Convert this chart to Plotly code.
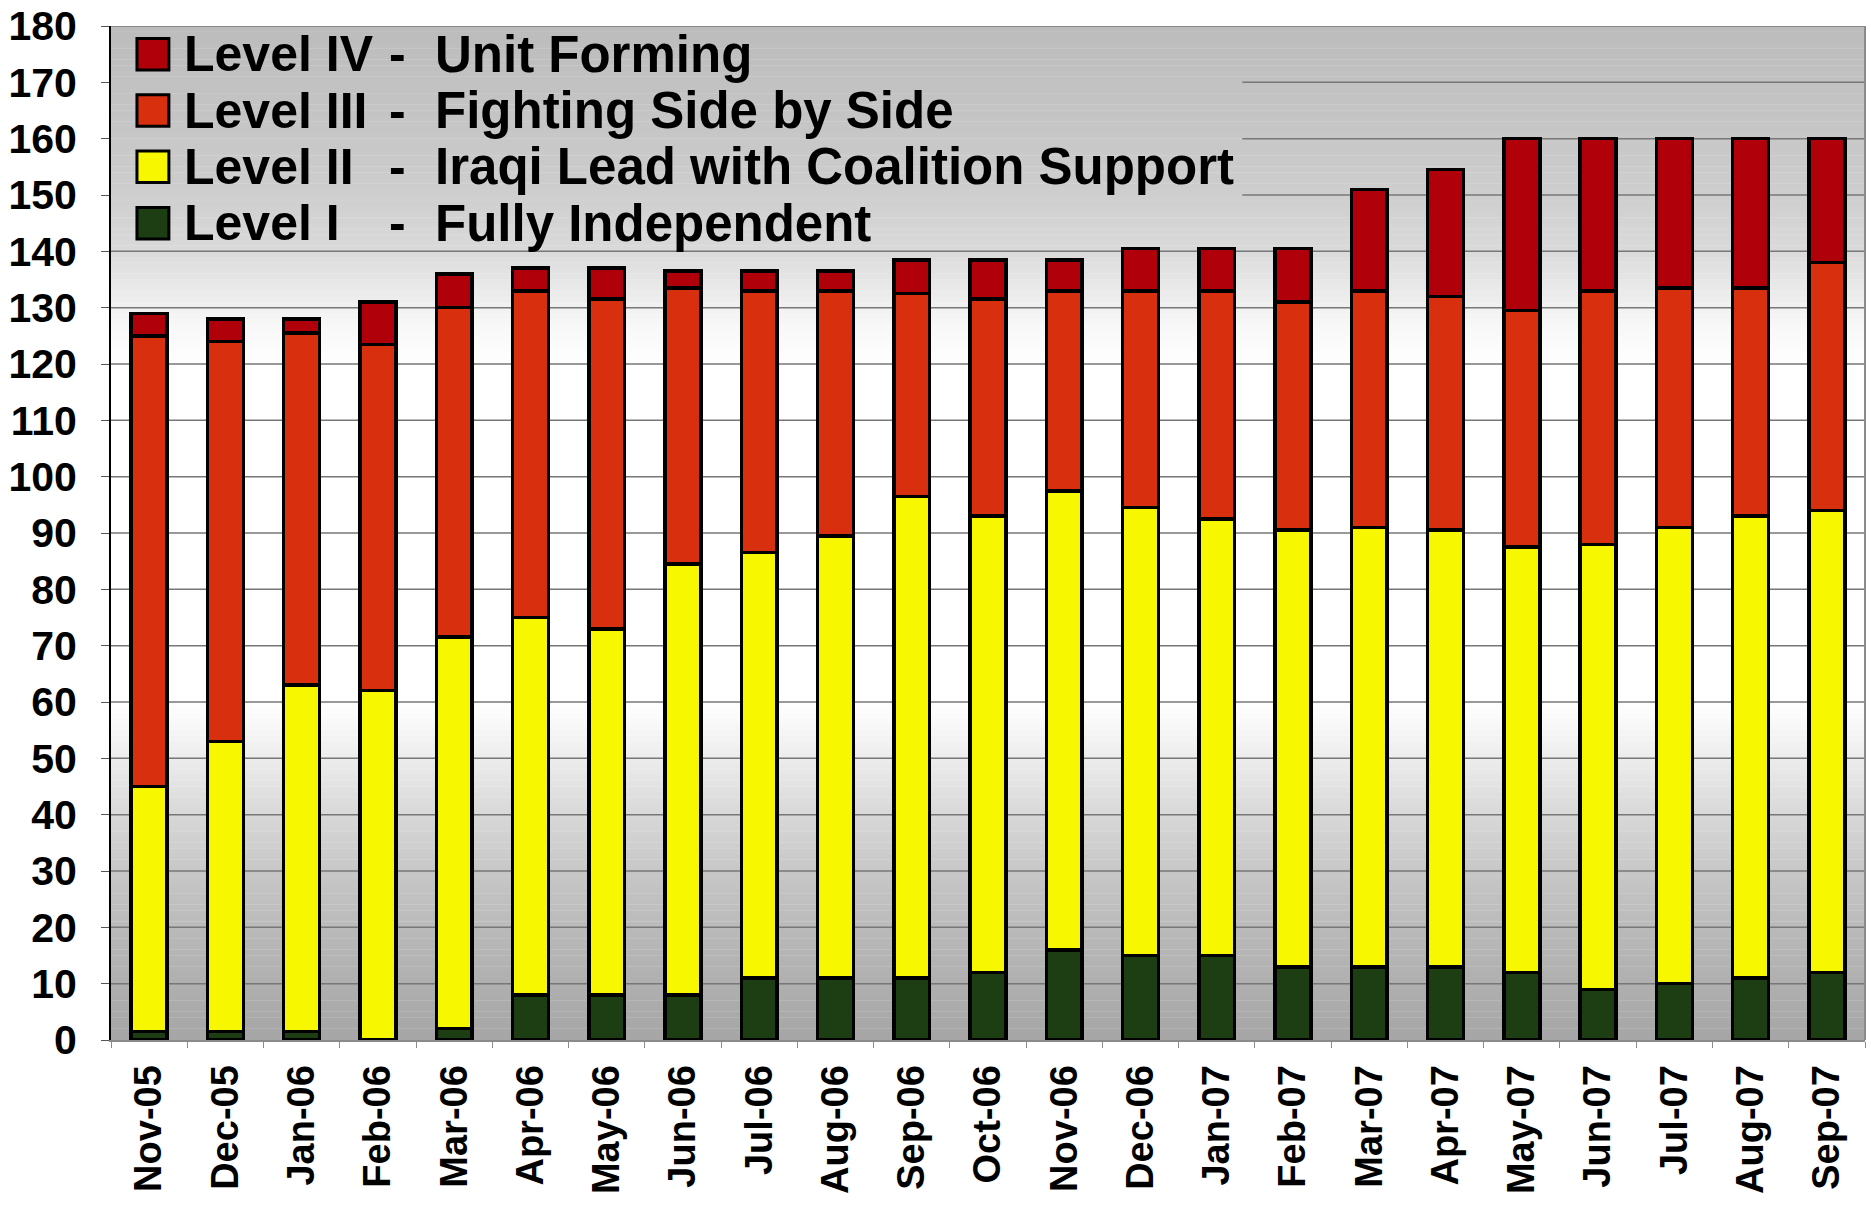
import plotly.graph_objects as go

months = ["Nov-05", "Dec-05", "Jan-06", "Feb-06", "Mar-06", "Apr-06", "May-06", "Jun-06",
          "Jul-06", "Aug-06", "Sep-06", "Oct-06", "Nov-06", "Dec-06", "Jan-07", "Feb-07",
          "Mar-07", "Apr-07", "May-07", "Jun-07", "Jul-07", "Aug-07", "Sep-07"]

level1 = [1.5, 1.5, 1.5, 0, 2, 8, 8, 8, 11, 11, 11, 12, 16, 15, 15, 13, 13, 13, 12, 9, 10, 11, 12]
level2 = [43.5, 51.5, 61.5, 62, 69.5, 67, 65, 76.5, 75.5, 78.5, 85.5, 81, 81.5, 79.5, 77.5, 77.5,
          78, 77.5, 75.5, 79, 81, 82, 82]
level3 = [80, 71, 62.5, 61.5, 58.5, 58, 58.5, 49, 46.5, 43.5, 36, 38.5, 35.5, 38.5, 40.5, 40.5,
          42, 41.5, 42, 45, 42.5, 40.5, 44]
level4 = [4, 4, 2.5, 7.5, 6, 4, 5.5, 3, 3.5, 3.5, 6, 7, 5.5, 7.5, 7.5, 9.5,
          18, 22.5, 30.5, 27, 26.5, 26.5, 22]

level_names = ["Level I", "Level II", "Level III", "Level IV"]
level_desc = ["Fully Independent", "Iraqi Lead with Coalition Support",
              "Fighting Side by Side", "Unit Forming"]
y_ticks = list(range(0, 181, 10))

colors = ["#1C3E12", "#F7F700", "#D8300E", "#B0000A"]
FONT = "Liberation Sans, Arial, sans-serif"

fig = go.Figure()
for name, vals, col in zip(level_names, [level1, level2, level3, level4], colors):
    fig.add_trace(go.Bar(x=months, y=vals, name=name,
                         marker=dict(color=col, line=dict(color="black", width=3.5)),
                         width=0.47, showlegend=False))

# background gradient (style only)
stops = [(0, 166), (10, 175), (20, 186), (30, 199), (40, 216), (50, 236), (58, 252), (62, 255),
         (120, 255), (127, 247), (134, 232), (140, 218), (150, 206), (165, 196), (180, 188)]


def gray_at(v):
    for (a, ga), (b, gb) in zip(stops[:-1], stops[1:]):
        if a <= v <= b:
            t = (v - a) / (b - a) if b > a else 0
            return int(round(ga + (gb - ga) * t))
    return stops[-1][1]


shapes = []
v = 0.0
while v < 180:
    g = gray_at(v + 0.5)
    shapes.append(dict(type="rect", xref="x domain", yref="y", x0=0, x1=1, y0=v, y1=min(v + 1.05, 180),
                       fillcolor=f"rgb({g},{g},{g})", line=dict(width=0), layer="below"))
    v += 1.0

# gridlines drawn as shapes so the legend box region stays clear of them
box_right = 0.645
for t in y_ticks[1:]:
    x0 = box_right if 145 < t < 175 else 0
    shapes.append(dict(type="line", xref="x domain", yref="y", x0=x0, x1=1, y0=t, y1=t,
                       line=dict(color="#777777", width=1.5), layer="below"))

# right border
shapes.append(dict(type="line", xref="x domain", yref="y domain", x0=1, x1=1, y0=0, y1=1,
                   line=dict(color="#8a8a8a", width=2), layer="below"))

annotations = []
row_y = [145, 155, 165, 175]
for i in range(4):
    yc = row_y[i]
    shapes.append(dict(type="rect", xref="x domain", yref="y", x0=0.0148, x1=0.0330,
                       y0=yc - 2.8, y1=yc + 2.8, fillcolor=colors[i],
                       line=dict(color="black", width=3)))
    annotations.append(dict(xref="x domain", yref="y", x=0.0405, y=yc, text=level_names[i],
                            showarrow=False, xanchor="left", yanchor="middle",
                            font=dict(family=FONT, size=50, color="black", weight="bold")))
    annotations.append(dict(xref="x domain", yref="y", x=0.1635, y=yc, text="-",
                            showarrow=False, xanchor="center", yanchor="middle",
                            font=dict(family=FONT, size=50, color="black", weight="bold")))
    annotations.append(dict(xref="x domain", yref="y", x=0.1836, y=yc, text=level_desc[i],
                            showarrow=False, xanchor="left", yanchor="middle",
                            font=dict(family=FONT, size=51, color="black", weight="bold")))

fig.update_layout(
    barmode="stack",
    width=1871, height=1210,
    margin=dict(l=111, r=6, t=26, b=170, autoexpand=False),
    paper_bgcolor="white",
    plot_bgcolor="white",
    shapes=shapes,
    annotations=annotations,
)

fig.update_xaxes(
    type="category", range=[-0.5, 22.5], tickangle=-90, automargin=False,
    tickfont=dict(family=FONT, size=38, color="black", weight="bold"),
    showline=True, linecolor="#8a8a8a", linewidth=2,
    ticks="outside", tickson="boundaries", ticklen=6, tickcolor="#8a8a8a",
    ticklabelstandoff=8, showgrid=False,
)
fig.update_yaxes(
    range=[0, 180], tickvals=y_ticks, ticktext=[str(t) for t in y_ticks], automargin=False,
    tickfont=dict(family=FONT, size=41, color="black", weight="bold"),
    showline=True, linecolor="black", linewidth=2,
    ticks="outside", ticklen=8, tickcolor="#555",
    ticklabelstandoff=16, ticklabeloverflow="allow",
    showgrid=False, zeroline=False,
)

# remove the default 8px page margin so the 1871x1210 figure fills the window exactly
fig.write_html("out.html", config={"displayModeBar": False},
               post_script="document.body.style.margin='0';")
